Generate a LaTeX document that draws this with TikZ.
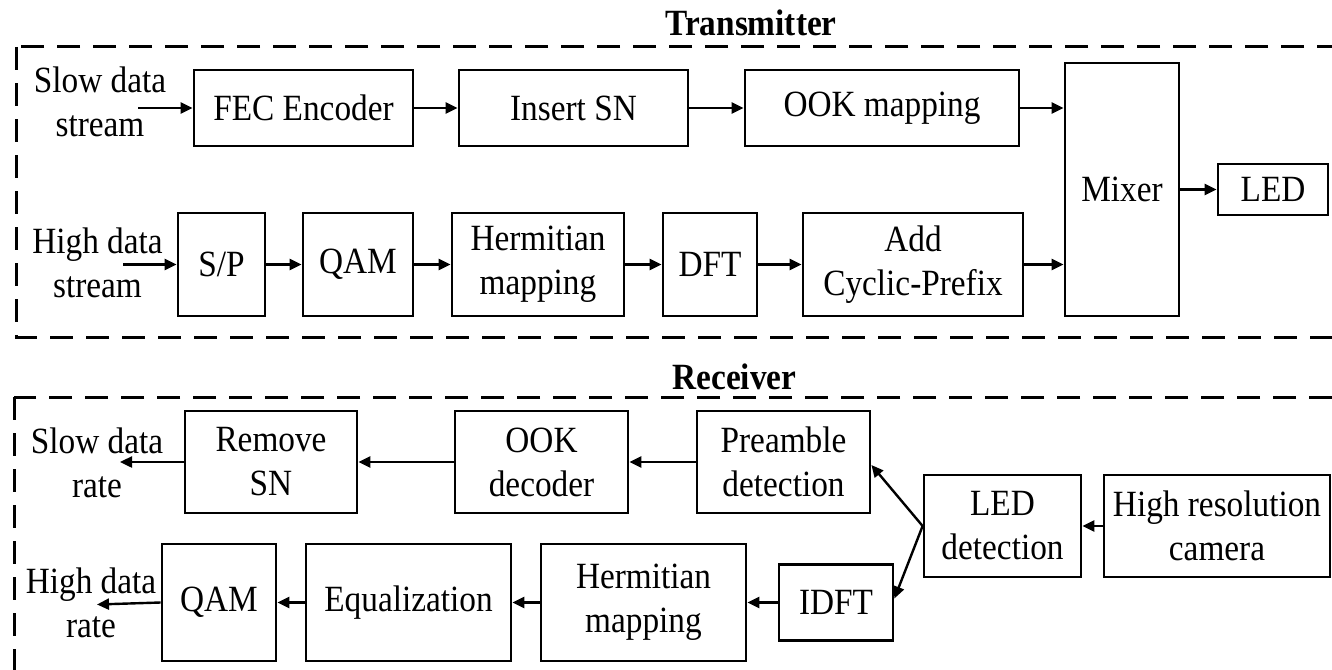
\documentclass[tikz,border=0pt]{standalone}
\usepackage{fontspec}
\setmainfont{Liberation Serif}[FakeStretch=0.9]
\usetikzlibrary{arrows.meta,calc}
\newcommand{\fs}{\fontsize{37}{44}\selectfont}
\tikzset{
  box/.style={draw, line width=2.8pt, inner sep=2pt, align=center, font=\fs},
  wh/.style 2 args={minimum width=#1pt, minimum height=#2pt},
  arr/.style={line width=2.4pt, -{Triangle[length=12pt,width=11pt]}},
  lbl/.style={inner sep=0pt, align=center, font=\fs},
  ttl/.style={inner sep=0pt, font=\fs\bfseries, anchor=base},
  frame/.style={line width=3pt, dash pattern=on 23pt off 13pt},
}
\begin{document}
\begin{tikzpicture}[x=1pt,y=-1pt]
\useasboundingbox (0,0) rectangle (1332,669);
\begin{scope}
  \clip (0,0) rectangle (1332,669);
  \draw[frame] (16,47) rectangle (1360,337);
  \draw[frame] (14,397) rectangle (1360,700);
\end{scope}
\node[ttl] (ttx) at (751,36) {Transmitter};
\node[ttl] (trx) at (734.5,389) {Receiver};

% Transmitter
\node[box, wh={219}{76}] (fec) at (303.5,108) {FEC Encoder};
\node[box, wh={229}{76}] (ins) at (573.5,108) {Insert SN};
\node[box, wh={274}{76}] (ook) at (882,108) {OOK mapping};
\node[box, wh={114}{253}] (mix) at (1122,189.5) {Mixer};
\node[box, wh={110}{51}] (led) at (1273,189.5) {LED};
\node[box, wh={87}{103}] (sp) at (221.5,264.5) {S/P};
\node[box, wh={110}{103}] (qam) at (358,264.5) {QAM};
\node[box, wh={172}{103}] (her) at (538,264.5) {Hermitian\\mapping};
\node[box, wh={94}{103}] (dft) at (710,264.5) {DFT};
\node[box, wh={220}{103}] (acp) at (913,264.5) {Add\\Cyclic-Prefix};

\node[lbl] (sds) at (100,101.4) {Slow data\\stream};
\node[lbl] (hds) at (97.5,262.4) {High data\\stream};
\coordinate (sin) at (138,108);
\coordinate (hin) at (123,264.5);

\draw[arr] (sin) -- (fec.west);
\draw[arr] (fec) -- (ins);
\draw[arr] (ins) -- (ook);
\draw[arr] (ook.east) -- (ook.east -| mix.west);
\draw[arr] (hin) -- (sp.west);
\draw[arr] (sp) -- (qam);
\draw[arr] (qam) -- (her);
\draw[arr] (her) -- (dft);
\draw[arr] (dft) -- (acp);
\draw[arr] (acp.east) -- (acp.east -| mix.west);
\draw[arr] (mix) -- (led);

% Receiver
\node[box, wh={172}{102}] (rsn) at (271,462) {Remove\\SN};
\node[box, wh={173}{102}] (ookd) at (541.5,462) {OOK\\decoder};
\node[box, wh={173}{102}] (pre) at (783.5,462) {Preamble\\detection};
\node[box, wh={157}{102}] (ledd) at (1002.5,526) {LED\\detection};
\node[box, wh={226}{102}] (cam) at (1217,526) {High resolution\\camera};
\node[box, wh={114}{117}] (qam2) at (219,602.5) {QAM};
\node[box, wh={205}{117}] (eq) at (408.5,602.5) {Equalization};
\node[box, wh={205}{117}] (her2) at (643.5,602.5) {Hermitian\\mapping};
\node[box, wh={114}{76}] (idft) at (836,602.5) {IDFT};

\node[lbl] (sdr) at (97,462.4) {Slow data\\rate};
\node[lbl] (hdr) at (91,602.9) {High data\\rate};
\coordinate (sout) at (120,462);
\coordinate (hout) at (97,604.5);

\draw[arr] (cam) -- (ledd);
\draw[arr] (ledd.west) -- ([yshift=-3pt]pre.east);
\draw[arr] (ledd.west) -- ([yshift=4pt]idft.east);
\draw[arr] (pre) -- (ookd);
\draw[arr] (ookd) -- (rsn);
\draw[arr] (rsn.west) -- (sout);
\draw[arr] (idft) -- (her2);
\draw[arr] (her2) -- (eq);
\draw[arr] (eq) -- (qam2);
\draw[arr] (qam2.west) -- (hout);
\end{tikzpicture}
\end{document}
